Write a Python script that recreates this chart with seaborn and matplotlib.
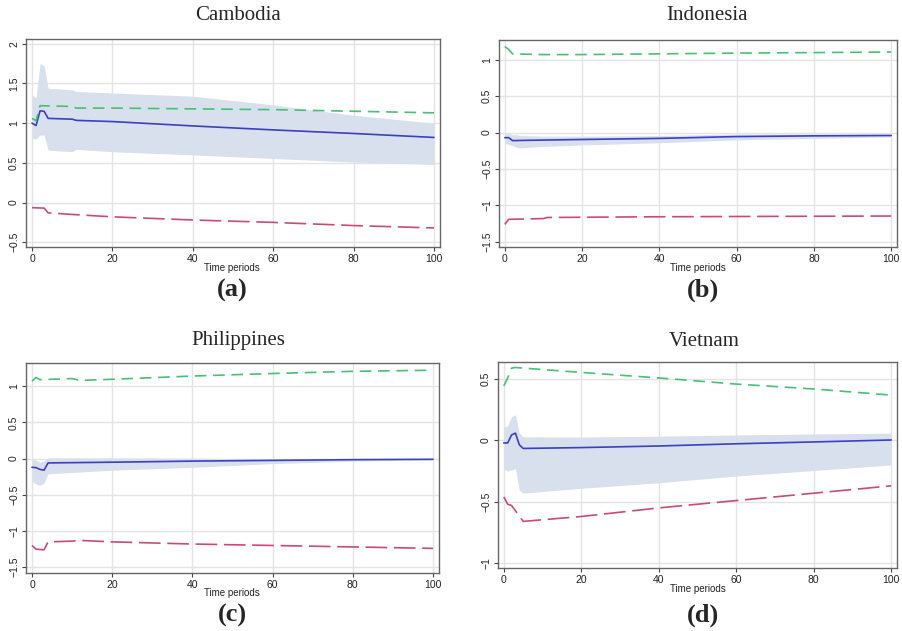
import matplotlib.pyplot as plt
import numpy as np
import pandas as pd
import seaborn as sns

# values (time period -> value)
countries = ["Cambodia", "Indonesia", "Philippines", "Vietnam"]
panel_tags = ["(a)", "(b)", "(c)", "(d)"]

# Cambodia
kh_t = [0, 1, 2, 3, 4, 10, 11, 20, 40, 60, 80, 100]
kh_irf = [1.0, 0.97, 1.155, 1.15, 1.06, 1.05, 1.035, 1.02, 0.965, 0.915, 0.87, 0.82]
kh_hi = [1.36, 1.32, 1.75, 1.72, 1.44, 1.42, 1.40, 1.38, 1.34, 1.23, 1.10, 1.0]
kh_lo = [0.81, 0.80, 0.85, 0.85, 0.66, 0.64, 0.67, 0.64, 0.60, 0.555, 0.51, 0.48]
kh_gt = [0, 1, 2, 10, 11, 20, 60, 100]
kh_g = [1.06, 1.03, 1.22, 1.21, 1.19, 1.19, 1.17, 1.13]
kh_rt = [0, 3, 4, 10, 20, 40, 60, 80, 100]
kh_r = [-0.065, -0.07, -0.13, -0.15, -0.18, -0.22, -0.25, -0.29, -0.32]

# Indonesia
id_t = [0, 1, 2, 3, 4, 10, 20, 40, 60, 80, 100]
id_irf = [-0.07, -0.07, -0.11, -0.11, -0.108, -0.103, -0.095, -0.08, -0.055, -0.045, -0.04]
id_hi = [-0.01, -0.01, -0.03, -0.03, -0.04, -0.05, -0.05, -0.04, -0.02, -0.02, -0.02]
id_lo = [-0.15, -0.16, -0.18, -0.2, -0.21, -0.19, -0.17, -0.14, -0.10, -0.08, -0.06]
id_gt = [0, 1, 2, 10, 20, 60, 100]
id_g = [1.18, 1.14, 1.08, 1.07, 1.07, 1.09, 1.105]
id_rt = [0, 1, 10, 11, 40, 100]
id_r = [-1.26, -1.19, -1.18, -1.165, -1.155, -1.145]

# Philippines
ph_t = [0, 1, 2, 3, 4, 20, 40, 60, 80, 100]
ph_irf = [-0.12, -0.125, -0.15, -0.16, -0.06, -0.05, -0.035, -0.025, -0.015, -0.01]
ph_hi = [0.0, -0.02, -0.05, -0.03, 0.01, 0.01, 0.005, 0.0, 0.0, -0.005]
ph_lo = [-0.32, -0.35, -0.37, -0.34, -0.21, -0.16, -0.12, -0.07, -0.035, -0.015]
ph_gt = [0, 1, 2, 10, 12, 20, 40, 60, 80, 100]
ph_g = [1.07, 1.12, 1.09, 1.105, 1.08, 1.095, 1.14, 1.175, 1.205, 1.22]
ph_rt = [0, 1, 3, 4, 10, 12, 20, 40, 60, 80, 100]
ph_r = [-1.2, -1.25, -1.26, -1.15, -1.14, -1.13, -1.15, -1.18, -1.2, -1.22, -1.24]

# Vietnam
vn_t = [0, 1, 2, 3, 4, 5, 20, 40, 60, 80, 100]
vn_irf = [-0.02, -0.02, 0.045, 0.06, -0.035, -0.065, -0.058, -0.045, -0.027, -0.012, 0.004]
vn_hi = [0.11, 0.12, 0.195, 0.21, 0.06, 0.03, 0.028, 0.035, 0.045, 0.053, 0.06]
vn_lo = [-0.235, -0.25, -0.24, -0.23, -0.405, -0.43, -0.39, -0.345, -0.29, -0.245, -0.2]
vn_gt = [0, 1, 2, 3, 20, 40, 60, 80, 100]
vn_g = [0.445, 0.51, 0.59, 0.595, 0.555, 0.51, 0.46, 0.42, 0.37]
vn_rt = [0, 1, 2, 5, 20, 40, 60, 80, 100]
vn_r = [-0.46, -0.52, -0.53, -0.66, -0.62, -0.55, -0.49, -0.43, -0.37]

y_ticks = [[-0.5, 0, 0.5, 1, 1.5, 2], [-1.5, -1, -0.5, 0, 0.5, 1],
           [-1.5, -1, -0.5, 0, 0.5, 1], [-1, -0.5, 0, 0.5]]
y_lims = [(-0.56, 2.06), (-1.57, 1.27), (-1.58, 1.32), (-1.04, 0.64)]

series = [
    (kh_t, kh_irf, kh_hi, kh_lo, kh_gt, kh_g, kh_rt, kh_r),
    (id_t, id_irf, id_hi, id_lo, id_gt, id_g, id_rt, id_r),
    (ph_t, ph_irf, ph_hi, ph_lo, ph_gt, ph_g, ph_rt, ph_r),
    (vn_t, vn_irf, vn_hi, vn_lo, vn_gt, vn_g, vn_rt, vn_r),
]

sns.set_style("whitegrid", {"grid.color": "#e4e4e4", "axes.edgecolor": "#666666"})
plt.rcParams['font.family'] = ['Liberation Sans', 'DejaVu Sans']

W, H = 902, 631
fig = plt.figure(figsize=(W / 100, H / 100), dpi=100)

# axes boxes in pixels: left, top, right, bottom
boxes = [(26, 39, 440, 247), (499, 40, 897, 247), (26, 363, 439, 573), (498, 362, 897, 568)]
title_pos = [(238, 16), (707, 16), (238, 341), (704, 341)]
tag_pos = [(232, 290), (703, 290), (232, 615), (703, 615)]
xlab_pos = [(232, 268), (698, 268), (232, 593), (698, 589)]

for k, (t, irf, hi, lo, gt, g, rt, r) in enumerate(series):
    l, tp, rr, b = boxes[k]
    ax = fig.add_axes([l / W, 1 - b / H, (rr - l) / W, (b - tp) / H])
    ax.fill_between(t, lo, hi, color="#d7e0ec", lw=0, zorder=1)
    sns.lineplot(x=t, y=irf, ax=ax, color="#3a3fc4", lw=1.2, zorder=3)
    sns.lineplot(x=gt, y=g, ax=ax, color="#45c272", lw=1.2, zorder=3)
    ax.lines[-1].set_dashes([7, 4])
    sns.lineplot(x=rt, y=r, ax=ax, color="#c94a78", lw=1.2, zorder=3)
    ax.lines[-1].set_dashes([13, 4])

    ax.set_xlim(-1.5, 101.5)
    ax.set_ylim(*y_lims[k])
    ax.set_xticks([0, 20, 40, 60, 80, 100])
    ax.set_yticks(y_ticks[k])
    ax.set_yticklabels([f"{v:g}".replace("-", "\u2212") for v in y_ticks[k]],
                       rotation=90, va="center")
    ax.tick_params(axis="both", labelsize=7.5, length=3, width=0.8, color="#444444",
                   pad=2, labelcolor="#222222", bottom=True, left=True)
    ax.grid(True, lw=1.0)
    for sp in ax.spines.values():
        sp.set_linewidth(1.0)
    ax.set_xlabel("")
    ax.set_ylabel("")

    fig.text(title_pos[k][0] / W, 1 - title_pos[k][1] / H, countries[k],
             family="Liberation Serif", fontsize=15, ha="center", va="center")
    fig.text(xlab_pos[k][0] / W, 1 - xlab_pos[k][1] / H, "Time periods",
             fontsize=7, ha="center", va="center", color="#222222")
    fig.text(tag_pos[k][0] / W, 1 - tag_pos[k][1] / H, panel_tags[k],
             family="Liberation Serif", fontsize=19, fontweight="bold",
             ha="center", va="center")

fig.savefig("out.png", dpi=100)
